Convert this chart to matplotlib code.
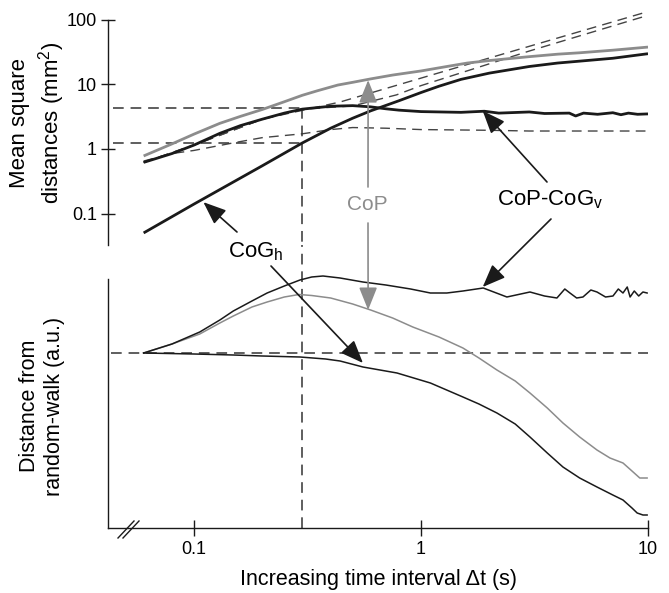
import matplotlib
matplotlib.use("Agg")
from matplotlib import pyplot as plt

plt.rcParams["font.family"] = ["Liberation Sans", "DejaVu Sans"]
plt.rcParams["mathtext.fontset"] = "custom"
plt.rcParams["mathtext.rm"] = "Liberation Sans"
plt.rcParams["mathtext.it"] = "Liberation Sans"

# top panel: mean square distances (mm2)
t_cop = [0.06, 0.08, 0.1, 0.13, 0.16, 0.2, 0.25, 0.3, 0.35, 0.43, 0.5, 0.6, 0.75, 1, 1.3, 1.6, 2,
         3, 4, 5, 7, 10]
msd_cop = [0.78, 1.2, 1.7, 2.5, 3.2, 4.1, 5.4, 6.8, 8.0, 9.8, 10.8, 12.2, 14.0, 16.2, 19, 21.5, 23.5,
           27, 29.5, 31, 34, 38]

t_cogh = [0.06, 0.1, 0.2, 0.3, 0.4, 0.5, 0.6, 0.8, 1, 1.2, 1.5, 2, 3, 4, 5, 7, 10]
msd_cogh = [0.05, 0.14, 0.55, 1.24, 2.1, 3.0, 3.9, 5.6, 7.5, 9.4, 12, 15, 19, 21.5, 23, 25.5, 30]

t_cogv = [0.06, 0.08, 0.1, 0.13, 0.16, 0.2, 0.25, 0.3, 0.4, 0.5, 0.6, 0.7, 0.8, 1, 1.5, 1.9, 2.2,
          3, 3.5, 4.5, 4.8, 5.2, 6, 7, 7.6, 8.2, 9, 10]
msd_cogv = [0.62, 0.85, 1.15, 1.75, 2.3, 2.9, 3.6, 4.15, 4.6, 4.7, 4.5, 4.2, 4.0, 3.8, 3.7, 3.85, 3.6,
            3.75, 3.55, 3.6, 3.25, 3.6, 3.45, 3.65, 3.4, 3.6, 3.45, 3.5]

# random-walk extrapolations (dashed)
t_rw_a = [0.06, 0.1, 0.2, 0.44, 1.68, 10]
rw_a = [0.62, 1.15, 2.9, 5.35, 21.5, 135]
t_rw_b = [0.06, 0.1, 0.2, 0.3, 0.5, 0.78, 1, 3, 10]
rw_b = [0.62, 1.15, 2.9, 4.15, 4.65, 6.9, 9.6, 33, 118]
t_rw_c = [0.06, 0.08, 0.1, 0.15, 0.2, 0.3, 0.4, 0.5, 0.7, 1, 2, 3, 5, 10]
rw_c = [0.65, 0.85, 0.95, 1.25, 1.5, 1.72, 2.0, 2.15, 2.1, 2.0, 1.95, 1.9, 1.9, 1.9]

t_cross = 0.3
msd_cross = [4.3, 1.24]

# bottom panel: distance from random walk (a.u.)
t_d_cogv = [0.06, 0.08, 0.106, 0.13, 0.149, 0.18, 0.21, 0.25, 0.293, 0.33, 0.37, 0.44, 0.555, 0.7,
            0.9, 1.1, 1.3, 1.53, 1.88, 2.39, 3.02, 3.5, 3.97, 4.3, 4.53, 4.85, 5.17, 5.6, 5.96, 6.5,
            7.01, 7.4, 7.76, 8.1, 8.34, 8.7, 9.1, 9.5, 9.91]
d_cogv = [0, 0.09, 0.21, 0.33, 0.42, 0.52, 0.60, 0.67, 0.73, 0.76, 0.77, 0.75, 0.71, 0.68,
          0.64, 0.60, 0.60, 0.62, 0.65, 0.56, 0.61, 0.57, 0.55, 0.64, 0.60, 0.55, 0.56, 0.63, 0.61, 0.56,
          0.57, 0.64, 0.60, 0.66, 0.56, 0.62, 0.57, 0.61, 0.60]
t_d_cop = [0.06, 0.08, 0.106, 0.13, 0.149, 0.18, 0.21, 0.25, 0.29, 0.33, 0.4, 0.5, 0.6, 0.75, 0.92,
           1.2, 1.53, 1.8, 2.16, 2.6, 3.02, 3.6, 4.22, 5, 5.96, 6.8, 7.76, 8.5, 9.2, 9.91]
d_cop = [0, 0.09, 0.19, 0.30, 0.37, 0.46, 0.51, 0.56, 0.585, 0.575, 0.55, 0.49, 0.43, 0.35, 0.26,
         0.16, 0.05, -0.05, -0.17, -0.28, -0.40, -0.55, -0.70, -0.84, -0.97, -1.05, -1.10, -1.18,
         -1.25, -1.25]
t_d_cogh = [0.06, 0.1, 0.149, 0.2, 0.293, 0.38, 0.44, 0.555, 0.784, 1.1, 1.53, 1.8, 2.16, 2.6, 3.02,
            3.6, 4.22, 5, 5.96, 7, 7.76, 8.5, 8.96, 9.5, 9.91]
d_cogh = [0, -0.01, -0.02, -0.03, -0.04, -0.06, -0.08, -0.14, -0.20, -0.30, -0.44, -0.51, -0.60,
          -0.71, -0.84, -1.0, -1.14, -1.25, -1.34, -1.42, -1.47, -1.55, -1.60, -1.62, -1.62]

W, H = 669, 593
def fpx(x, y):
	return (x / W, 1 - y / H)

GRAY = "#8c8c8c"
INK = "#1a1a1a"
DASH = (0, (7, 4.5))

fig = plt.figure(figsize=(W / 100, H / 100), dpi=100)
ax1 = fig.add_axes([108 / W, 1 - 245 / H, 540 / W, (245 - 6.8) / H])
ax2 = fig.add_axes([108 / W, 1 - 528 / H, 540 / W, (528 - 273) / H])

for ax in (ax1, ax2):
	ax.set_xscale("log")
	ax.set_xlim(0.0418, 10)
	ax.patch.set_alpha(0)
	for s in ("top", "right"):
		ax.spines[s].set_visible(False)
	for s in ("left", "bottom"):
		ax.spines[s].set_linewidth(1.0)
		ax.spines[s].set_color(INK)

# top panel
ax1.set_yscale("log")
ax1.set_ylim(0.0325, 160)
ax1.spines["bottom"].set_visible(False)
ax1.spines["left"].set_bounds(0.0325, 100)
ax1.set_xticks([])
ax1.minorticks_off()
ax1.set_yticks([0.1, 1, 10, 100], labels=["0.1", "1", "10", "100"])
ax1.tick_params(axis="y", direction="inout", length=10, width=1, color=INK, labelsize=13, pad=3)
ax1.tick_params(axis="x", which="both", bottom=False, labelbottom=False)

ax1.plot(t_rw_a, rw_a, color="#444444", lw=1.0, ls=DASH)
ax1.plot(t_rw_b, rw_b, color="#444444", lw=1.0, ls=DASH)
ax1.plot(t_rw_c, rw_c, color="#444444", lw=1.0, ls=DASH)
for v in msd_cross:
	ax1.plot([0.044, t_cross], [v, v], color="#333333", lw=1.1, ls=DASH)
ax1.plot([t_cross, t_cross], [msd_cross[0], 0.0325], color="#333333", lw=1.1, ls=DASH)

ax1.plot(t_cop, msd_cop, color=GRAY, lw=2.0, solid_capstyle="butt")
ax1.plot(t_cogv, msd_cogv, color=INK, lw=2.0, solid_capstyle="butt")
ax1.plot(t_cogh, msd_cogh, color=INK, lw=2.0, solid_capstyle="butt")

# bottom panel
ax2.set_ylim(-1.75, 0.80)
ax2.spines["left"].set_bounds(-1.75, 0.74)
ax2.set_yticks([])
ax2.minorticks_off()
ax2.set_xticks([0.1, 1, 10], labels=["0.1", "1", "10"])
ax2.tick_params(axis="x", direction="inout", length=11, width=1, color=INK, labelsize=13, pad=4)

ax2.axhline(0, xmin=0.005, color="#333333", lw=1.1, ls=DASH)
ax2.plot([t_cross, t_cross], [-1.75, 1.08], color="#333333", lw=1.1, ls=DASH, clip_on=False)

ax2.plot(t_d_cop, d_cop, color=GRAY, lw=1.1)
ax2.plot(t_d_cogv, d_cogv, color=INK, lw=1.1)
ax2.plot(t_d_cogh, d_cogh, color=INK, lw=1.1)

# axis break marks
for dx in (0, 5):
	fig.add_artist(plt.Line2D([(118 + dx) / W, (134 + dx) / W], [1 - 538 / H, 1 - 521 / H],
	                          color=INK, lw=1.0))

# labels
fig.text(*fpx(38, 123), "Mean square\ndistances (mm$^2$)", rotation=90, ha="center", va="center",
         fontsize=16, linespacing=1.3, multialignment="center")
fig.text(*fpx(42, 406), "Distance from\nrandom-walk (a.u.)", rotation=90, ha="center", va="center",
         fontsize=15.5, linespacing=1.2, multialignment="center")
fig.text(*fpx(378, 580), "Increasing time interval Δt (s)", ha="center", va="center", fontsize=15.5)

# annotations
arrow = dict(arrowstyle="-|>,head_length=0.7,head_width=0.28", color=INK, lw=1.2,
             shrinkA=0, shrinkB=0, mutation_scale=20)
garrow = dict(arrow, color=GRAY)

fig.text(*fpx(256, 252), "CoG$_{\\rm h}$", ha="center", va="center", fontsize=16)
ax1.annotate("", xy=(0.11, 0.15), xycoords="data", xytext=fpx(237, 232),
             textcoords="figure fraction", arrowprops=arrow, annotation_clip=False)
ax2.annotate("", xy=(0.555, -0.10), xycoords="data", xytext=fpx(271, 266),
             textcoords="figure fraction", arrowprops=arrow, annotation_clip=False)

fig.text(*fpx(550, 200), "CoP-CoG$_{\\rm v}$", ha="center", va="center", fontsize=16)
ax1.annotate("", xy=(1.87, 3.9), xycoords="data", xytext=fpx(547, 182),
             textcoords="figure fraction", arrowprops=arrow, annotation_clip=False)
ax2.annotate("", xy=(1.87, 0.66), xycoords="data", xytext=fpx(551, 219),
             textcoords="figure fraction", arrowprops=arrow, annotation_clip=False)

fig.text(*fpx(367, 205), "CoP", ha="center", va="center", fontsize=15, color=GRAY)
ax1.annotate("", xy=(0.585, 11.7), xycoords="data", xytext=fpx(368, 187),
             textcoords="figure fraction", arrowprops=garrow, annotation_clip=False)
ax2.annotate("", xy=(0.585, 0.43), xycoords="data", xytext=fpx(368, 223),
             textcoords="figure fraction", arrowprops=garrow, annotation_clip=False)

fig.savefig("out.png", dpi=100)
